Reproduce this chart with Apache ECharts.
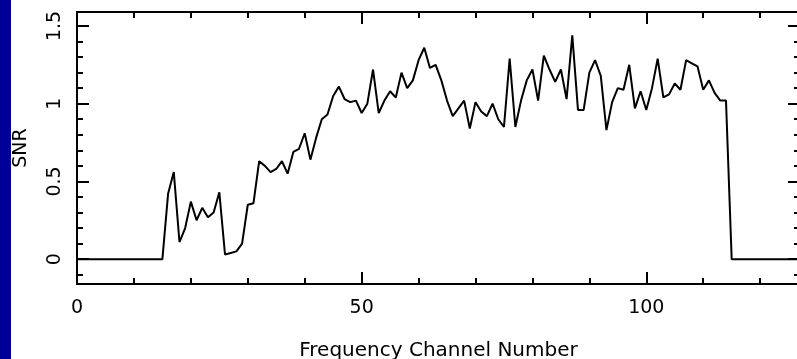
<!DOCTYPE html>
<html><head><meta charset="utf-8">
<script src="https://cdn.jsdelivr.net/npm/echarts@6/dist/echarts.min.js"></script>
<style>html,body{margin:0;padding:0;background:#fff}#c{width:797px;height:359px}</style>
</head><body><div id="c"></div>
<script>
const snr = [
  0,0,0,0,0,0,0,0,0,0,0,0,0,0,0,0,
  0.42,0.56,0.11,0.20,0.37,0.25,0.33,0.27,0.30,0.43,
  0.03,0.04,0.05,0.10,0.35,0.36,0.63,0.60,0.56,0.58,
  0.63,0.55,0.69,0.71,0.81,0.64,0.78,0.90,0.93,1.05,
  1.11,1.03,1.01,1.02,0.94,1.00,1.22,0.94,1.02,1.08,
  1.04,1.20,1.10,1.15,1.28,1.36,1.23,1.25,1.15,1.02,
  0.92,0.97,1.02,0.84,1.01,0.95,0.92,1.00,0.90,0.85,
  1.29,0.85,1.02,1.15,1.22,1.02,1.31,1.22,1.14,1.22,
  1.03,1.44,0.96,0.96,1.20,1.28,1.18,0.83,1.01,1.10,
  1.09,1.25,0.97,1.08,0.96,1.10,1.29,1.04,1.06,1.13,
  1.09,1.28,1.26,1.24,1.09,1.15,1.07,1.02,1.02,
  0,0,0,0,0,0,0,0,0,0,0,0,0
];
const channels = snr.map((_, i) => i);
const xMajorTicks = [0, 50, 100];
const xMinorTicks = [0, 10, 20, 30, 40, 50, 60, 70, 80, 90, 100, 110, 120];
const yMajorTicks = [0, 0.5, 1, 1.5];
const yMinorTicks = [-0.1, 0, 0.1, 0.2, 0.3, 0.4, 0.5, 0.6, 0.7, 0.8, 0.9, 1, 1.1, 1.2, 1.3, 1.4, 1.5];
const xName = 'Frequency Channel Number';
const yName = 'SNR';
const xRange = [0, 127];
const yRange = [-0.16, 1.59];

const FONT = 'DejaVu Sans';
const chart = echarts.init(document.getElementById('c'), null, {renderer: 'canvas'});

function xAx(pos, ticks, len, labels, extra) {
  return Object.assign({
    type: 'value', position: pos, min: xRange[0], max: xRange[1],
    axisLine: {show: false, onZero: false},
    axisTick: {show: true, inside: true, length: len, customValues: ticks, lineStyle: {color: '#000', width: 2}},
    axisLabel: labels ? {show: true, customValues: ticks, margin: 15, color: '#000', fontSize: 19, fontFamily: FONT}
                      : {show: false},
    splitLine: {show: false}
  }, extra || {});
}
function yAx(pos, ticks, len, labels, extra) {
  return Object.assign({
    type: 'value', position: pos, min: yRange[0], max: yRange[1],
    axisLine: {show: false, onZero: false},
    axisTick: {show: true, inside: true, length: len, customValues: ticks, lineStyle: {color: '#000', width: 2}},
    axisLabel: labels ? {show: true, customValues: ticks, rotate: 90, margin: 12, color: '#000', fontSize: 19, fontFamily: FONT}
                      : {show: false},
    splitLine: {show: false}
  }, extra || {});
}

chart.setOption({
  animation: false,
  backgroundColor: '#fff',
  graphic: [{type: 'rect', left: 0, top: 0, shape: {width: 11, height: 359}, style: {fill: '#000099'}}],
  grid: {left: 77, top: 12, right: -3, bottom: 75, containLabel: false, outerBoundsMode: 'none',
    show: true, borderColor: '#000', borderWidth: 2, backgroundColor: 'transparent'},
  xAxis: [
    xAx('bottom', xMajorTicks, 12, true, {name: xName, nameLocation: 'middle', nameGap: 57,
      nameTextStyle: {color: '#000', fontSize: 20, fontFamily: FONT}}),
    xAx('bottom', xMinorTicks, 6, false),
    xAx('top', xMajorTicks, 12, false),
    xAx('top', xMinorTicks, 6, false)
  ],
  yAxis: [
    yAx('left', yMajorTicks, 12, true, {name: yName, nameLocation: 'middle', nameGap: 46, nameRotate: 90,
      nameTextStyle: {color: '#000', fontSize: 19, fontFamily: FONT}}),
    yAx('left', yMinorTicks, 6, false),
    yAx('right', yMajorTicks, 12, false),
    yAx('right', yMinorTicks, 6, false)
  ],
  series: [{
    type: 'line', xAxisIndex: 0, yAxisIndex: 0, showSymbol: false, symbol: 'none',
    lineStyle: {color: '#000', width: 2},
    data: channels.map((c, i) => [c, snr[i]])
  }]
});
</script></body></html>
